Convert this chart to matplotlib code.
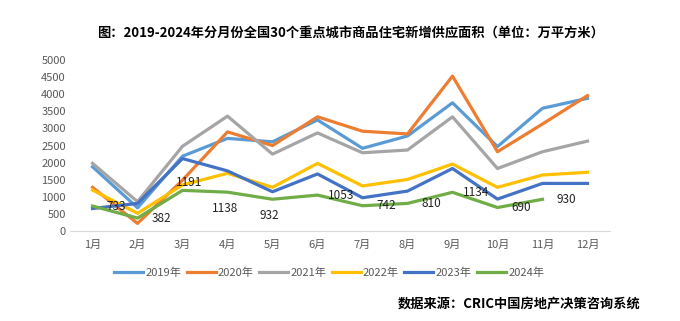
import matplotlib
matplotlib.use('Agg')
import matplotlib.pyplot as plt

plt.rcParams['font.family'] = ['Noto Sans CJK SC', 'DejaVu Sans']

months = ['1月', '2月', '3月', '4月', '5月', '6月', '7月', '8月', '9月', '10月', '11月', '12月']
y2019 = [1880, 680, 2190, 2710, 2610, 3250, 2420, 2780, 3750, 2470, 3590, 3880]
y2020 = [1280, 225, 1490, 2900, 2500, 3340, 2920, 2840, 4530, 2320, 3130, 3960]
y2021 = [1980, 860, 2480, 3360, 2250, 2870, 2290, 2370, 3340, 1830, 2320, 2630]
y2022 = [1200, 520, 1350, 1690, 1280, 1980, 1320, 1510, 1960, 1280, 1640, 1720]
y2023 = [660, 810, 2120, 1760, 1150, 1670, 975, 1170, 1830, 936, 1394, 1394]
y2024 = [733, 382, 1191, 1138, 932, 1053, 742, 810, 1134, 690, 930]

series = [('2019年', y2019, '#5B9BD5'), ('2020年', y2020, '#ED7D31'),
          ('2021年', y2021, '#A5A5A5'), ('2022年', y2022, '#FFC000'),
          ('2023年', y2023, '#4472C4'), ('2024年', y2024, '#70AD47')]

# where each 2024 label sits: right, above or below the point
label_pos = ['r', 'r', 'a', 'b', 'b', 'r', 'r', 'r', 'r', 'r', 'r']

fig = plt.figure(figsize=(6.8, 3.21), dpi=100)
ax = fig.add_axes([0.103, 0.280, 0.794, 0.533])

x = list(range(len(months)))
for name, vals, col in series:
    ax.plot(x[:len(vals)], vals, color=col, lw=2.3, label=name)

for i, v in enumerate(y2024):
    p = label_pos[i]
    if p == 'r':
        off = (17, 0)
    elif p == 'a':
        off = (5, 6)
    else:
        off = (-2, -12)
    ax.annotate(str(v), (i, v), xytext=off, textcoords='offset points',
                ha='center', va='center', fontsize=8.5, color='#222222')

ax.set_xlim(-0.5, 11.5)
ax.set_ylim(0, 5000)
ax.set_yticks(range(0, 5001, 500))
ax.set_xticks(x)
ax.set_xticklabels(months)
ax.tick_params(axis='both', length=0, labelsize=8, colors='#595959', pad=3)
ax.tick_params(axis='x', pad=6)
for s in ['top', 'right', 'left']:
    ax.spines[s].set_visible(False)
ax.spines['bottom'].set_color('#D9D9D9')

fig.text(0.515, 0.897, '图：2019-2024年分月份全国30个重点城市商品住宅新增供应面积（单位：万平方米）',
         ha='center', va='center', fontsize=9.5, fontweight='bold', color='black')

fig.legend(loc='center', bbox_to_anchor=(0.484, 0.150), ncol=6, frameon=False,
           fontsize=8, handlelength=2.6, handletextpad=0.2, columnspacing=0.5,
           labelcolor='#595959')

fig.text(0.942, 0.053, '数据来源：CRIC中国房地产决策咨询系统', ha='right', va='center',
         fontsize=9.5, fontweight='bold', color='black')

fig.savefig('out.png', dpi=100)
